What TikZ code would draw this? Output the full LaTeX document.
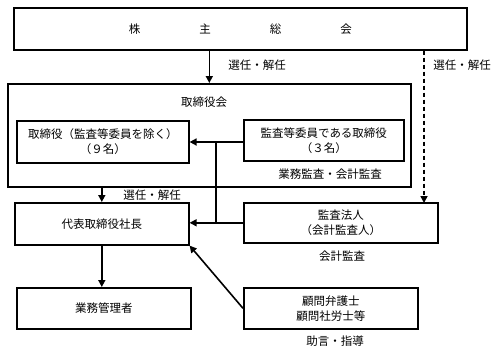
\documentclass[tikz,border=0pt]{standalone}
\usepackage{fontspec}
\setmainfont{Noto Sans CJK JP}
\usetikzlibrary{arrows.meta}
\begin{document}
\begin{tikzpicture}[x=1pt,y=-1pt,
  box/.style={draw,line width=1.6pt,inner sep=0pt,anchor=north west,align=center,font=\fontsize{11.5}{15}\selectfont},
  lbl/.style={inner sep=0pt,font=\fontsize{11.5}{15}\selectfont},
  arr/.style={line width=1.6pt,-{Triangle[length=7pt,width=7pt]}},
  ln/.style={line width=1.6pt}]
\useasboundingbox (0,0) rectangle (497,354);
\node[box,minimum width=453pt,minimum height=42pt] (soukai) at (13,7) {株\hspace{59pt}主\hspace{59pt}総\hspace{59pt}会};
\node[box,minimum width=403pt,minimum height=103pt] (board) at (7,83) {};
\node[lbl] (boardt) at (204,102) {取締役会};
\node[box,minimum width=172pt,minimum height=42pt] (dir) at (16,120) {取締役（監査等委員を除く）\\（９名）};
\node[box,minimum width=160pt,minimum height=41pt] (kansa) at (243,119) {監査等委員である取締役\\（３名）};
\node[box,minimum width=174pt,minimum height=42pt] (pres) at (14,202) {代表取締役社長};
\node[box,minimum width=194pt,minimum height=40pt] (audit) at (243,202) {監査法人\\（会計監査人）};
\node[box,minimum width=174pt,minimum height=41pt] (mgr) at (16,287) {業務管理者};
\node[box,minimum width=174pt,minimum height=41pt] (adv) at (243,287) {顧問弁護士\\顧問社労士等};
\node[lbl] (l1) at (257,65) {選任・解任};
\node[lbl] (l2) at (462,65) {選任・解任};
\node[lbl] (l3) at (330,174) {業務監査・会計監査};
\node[lbl] (l4) at (152,195) {選任・解任};
\node[lbl] (l5) at (342,256) {会計監査};
\node[lbl] (l6) at (335,341) {助言・指導};
\coordinate (dx) at (424,0);
\coordinate (j1) at (216,142);
\draw[arr] (soukai.south -| board.north) -- (board.north);
\draw[arr,dash pattern=on 4pt off 3pt] (soukai.south -| dx) -- ([yshift=-1pt]audit.north -| dx);
\draw[arr] (kansa.west |- j1) -- (dir.east |- j1);
\draw[ln] (j1) -- (j1 |- audit.west);
\draw[arr] (audit.west) -- (pres.east |- audit.west);
\draw[arr] (board.south -| pres.north) -- (pres.north);
\draw[arr] (pres.south) -- (pres.south |- mgr.north);
\draw[arr] (adv.west) -- (pres.south east);
\end{tikzpicture}
\end{document}
